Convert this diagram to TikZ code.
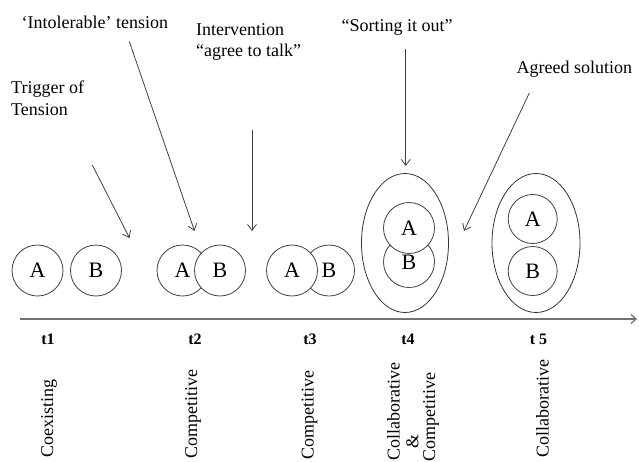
\documentclass[tikz,border=0pt]{standalone}
\usepackage{fontspec}
\setmainfont{Liberation Serif}
\usetikzlibrary{arrows.meta,shapes.geometric}
\begin{document}
\begin{tikzpicture}[x=1pt,y=-1pt,
  party/.style={circle,draw=black!75,line width=0.8pt,fill=white,minimum size=51pt,inner sep=0pt,font=\fontsize{22}{22}\selectfont},
  group/.style={ellipse,draw=black!80,line width=0.8pt,inner sep=0pt},
  cue/.style={font=\fontsize{18}{21.5}\selectfont,inner sep=0pt,align=left},
  pointer/.style={draw=black!75,line width=0.8pt,-{Straight Barb[length=6pt,width=9pt]}},
  stamp/.style={font=\fontsize{16}{16}\selectfont\bfseries,inner sep=0pt,anchor=base},
  phase/.style={font=\fontsize{18}{18}\selectfont,inner sep=0pt,rotate=90,anchor=east}
]
\useasboundingbox (0,0) rectangle (639,461);

% time axis
\coordinate (axisstart) at (20,319);
\coordinate (axisend) at (637,319);
\draw[draw=black!55,line width=1.3pt,-{Straight Barb[length=5pt,width=9pt]}] (axisstart) -- (axisend);

% t1: coexisting
\node[party] (a1) at (37.5,270.5) {A};
\node[party] (b1) at (96,270.5) {B};

% t2: competitive (B over A)
\node[party] (a2) at (182.5,270.5) {A};
\node[party] (b2) at (220,270.5) {B};

% t3: competitive (A over B)
\node[party] (b3) at (329,270.5) {B};
\node[party] (a3) at (292,270.5) {A};

% t4: collaborative & competitive
\node[group,minimum width=87pt,minimum height=139pt] (g4) at (405,243) {};
\node[party] (b4) at (409,262) {B};
\node[party] (a4) at (409,228) {A};

% t5: collaborative
\node[group,minimum width=88pt,minimum height=139pt] (g5) at (536,243) {};
\node[party,minimum size=49pt] (a5) at (532.7,219) {A};
\node[party,minimum size=49pt] (b5) at (532.7,271) {B};

% event labels
\node[cue,anchor=base west] (trig) at (11,115) {Trigger of\\Tension};
\node[cue,anchor=base west] (intol) at (21.5,28) {‘Intolerable’ tension};
\node[cue,anchor=base west] (interv) at (196,56.5) {Intervention\\“agree to talk”};
\node[cue,anchor=base west] (sort) at (341.5,31.5) {“Sorting it out”};
\node[cue,anchor=base west] (agree) at (516.5,73.5) {Agreed solution};

% pointers
\coordinate (trigS) at (92.3,165);
\coordinate (trigE) at (129.5,238);
\coordinate (intolS) at (129.3,41.5);
\coordinate (intolE) at (194.5,231);
\coordinate (intervS) at (252,130);
\coordinate (intervE) at (252,231);
\coordinate (sortS) at (405.7,49);
\coordinate (sortE) at (405.7,166);
\coordinate (agreeS) at (529.3,93);
\coordinate (agreeE) at (464,231);
\draw[pointer] (trigS) -- (trigE);
\draw[pointer] (intolS) -- (intolE);
\draw[pointer] (intervS) -- (intervE);
\draw[pointer] (sortS) -- (sortE);
\draw[pointer] (agreeS) -- (agreeE);

% time stamps
\node[stamp] (t1) at (48,344) {t1};
\node[stamp] (t2) at (195,344) {t2};
\node[stamp] (t3) at (310,344) {t3};
\node[stamp] (t4) at (408,344) {t4};
\node[stamp] (t5) at (538.5,344) {t 5};

% relationship phases
\node[phase] (p1) at (49,379.5) {Coexisting};
\node[phase] (p2) at (193,369.5) {Competitive};
\node[phase] (p3) at (309.5,370.5) {Competitive};
\node[phase] (p4a) at (393.5,362.5) {Collaborative};
\node[phase] (p4b) at (412.5,434) {\&};
\node[phase] (p4c) at (431,372) {Competitive};
\node[phase] (p5) at (542.5,359) {Collaborative};
\end{tikzpicture}
\end{document}
